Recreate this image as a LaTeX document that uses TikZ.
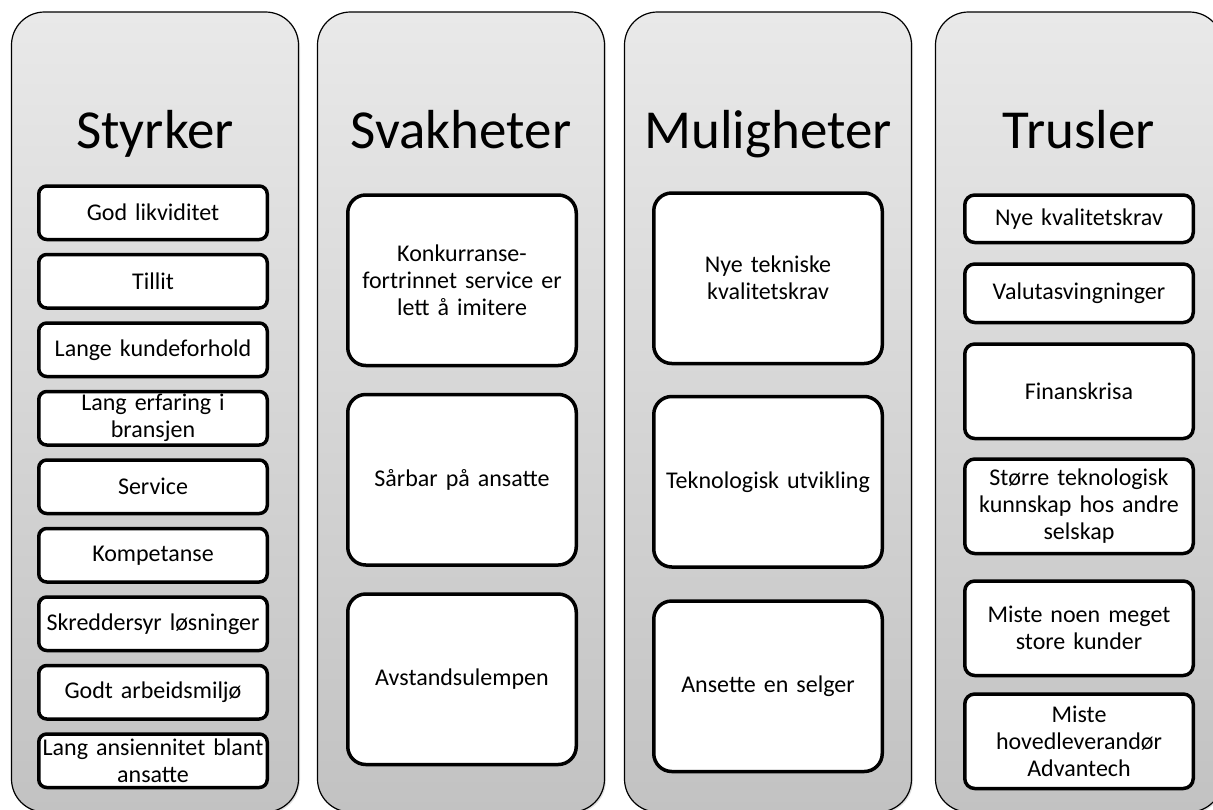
\documentclass[tikz,border=0pt]{standalone}
\usepackage{fontspec}
\setmainfont{Carlito}
\usepackage{tikz}
\usetikzlibrary{positioning,shadows}

\definecolor{colTop}{HTML}{E9E9E9}
\definecolor{colBottom}{HTML}{C2C2C2}
\newcommand\itemfont{\fontsize{24}{27}\selectfont\spaceskip=0.15em plus 0.05em\relax
  \hyphenpenalty=10000\relax}

\begin{document}
\begin{tikzpicture}[x=1pt,y=-1pt,node distance=15pt,
  column node/.style={rectangle,rounded corners=33pt,draw=black,line width=1.2pt,
    top color=colTop,bottom color=colBottom,minimum width=287pt,minimum height=800pt,
    anchor=north,outer sep=0pt,
    drop shadow={opacity=0.25,shadow xshift=1.5pt,shadow yshift=-1.5pt}},
  title node/.style={anchor=base,inner sep=0pt,font=\fontsize{55}{60}\selectfont},
  item node/.style={rectangle,draw=black,line width=3.5pt,fill=white,
    minimum width=228.5pt,text width=227pt,align=center,inner sep=0.5pt,outer sep=0pt,
    font=\itemfont},
  small item/.style={item node,rounded corners=8pt,minimum height=53.5pt},
  big item/.style={item node,rounded corners=18pt,minimum height=170.5pt},
  threat item/.style={item node,rounded corners=10pt,minimum height=#1},
  threat item/.default=94.5pt]

  \clip (0,0) rectangle (1213,809);

  \node[column node] (styrker) at (155,12) {};
  \node[column node] (svakheter) at (461,12) {};
  \node[column node] (muligheter) at (768,12) {};
  \node[column node] (trusler) at (1079,12) {};

  \node[title node] (tStyrker) at (155,148) {Styrker};
  \node[title node] (tSvakheter) at (461,148) {Svakheter};
  \node[title node] (tMuligheter) at (768,148) {Muligheter};
  \node[title node] (tTrusler) at (1079,148) {Trusler};

  % styrker
  \node[small item,anchor=north] (s1) at (153,186) {God likviditet};
  \node[small item] (s2) [below=of s1] {Tillit};
  \node[small item] (s3) [below=of s2] {Lange kundeforhold};
  \node[small item] (s4) [below=of s3] {Lang erfaring i\\bransjen};
  \node[small item] (s5) [below=of s4] {Service};
  \node[small item] (s6) [below=of s5] {Kompetanse};
  \node[small item] (s7) [below=of s6] {Skreddersyr løsninger};
  \node[small item] (s8) [below=of s7] {Godt arbeidsmiljø};
  \node[small item] (s9) [below=of s8] {Lang ansiennitet blant\\ansatte};

  % svakheter
  \node[big item,anchor=north] (w1) at (462,195) {Konkurranse-\\fortrinnet service er\\lett å imitere};
  \node[big item] (w2) [below=29pt of w1] {Sårbar på ansatte};
  \node[big item] (w3) [below=29pt of w2] {Avstandsulempen};

  % muligheter
  \node[big item,anchor=north] (o1) at (768,193) {Nye tekniske\\kvalitetskrav};
  \node[big item] (o2) [below=33pt of o1] {Teknologisk utvikling};
  \node[big item] (o3) [below=34pt of o2] {Ansette en selger};

  % trusler
  \node[threat item=47.5pt,anchor=north] (t1) at (1079,195) {Nye kvalitetskrav};
  \node[threat item=58.5pt] (t2) [below=21.5pt of t1] {Valutasvingninger};
  \node[threat item] (t3) [below=21.5pt of t2] {Finanskrisa};
  \node[threat item] (t4) [below=20.5pt of t3] {Større teknologisk\\kunnskap hos andre\\selskap};
  \node[threat item] (t5) [below=27.5pt of t4] {Miste noen meget\\store kunder};
  \node[threat item] (t6) [below=18.5pt of t5] {Miste\\hovedleverandør\\Advantech};
\end{tikzpicture}
\end{document}
